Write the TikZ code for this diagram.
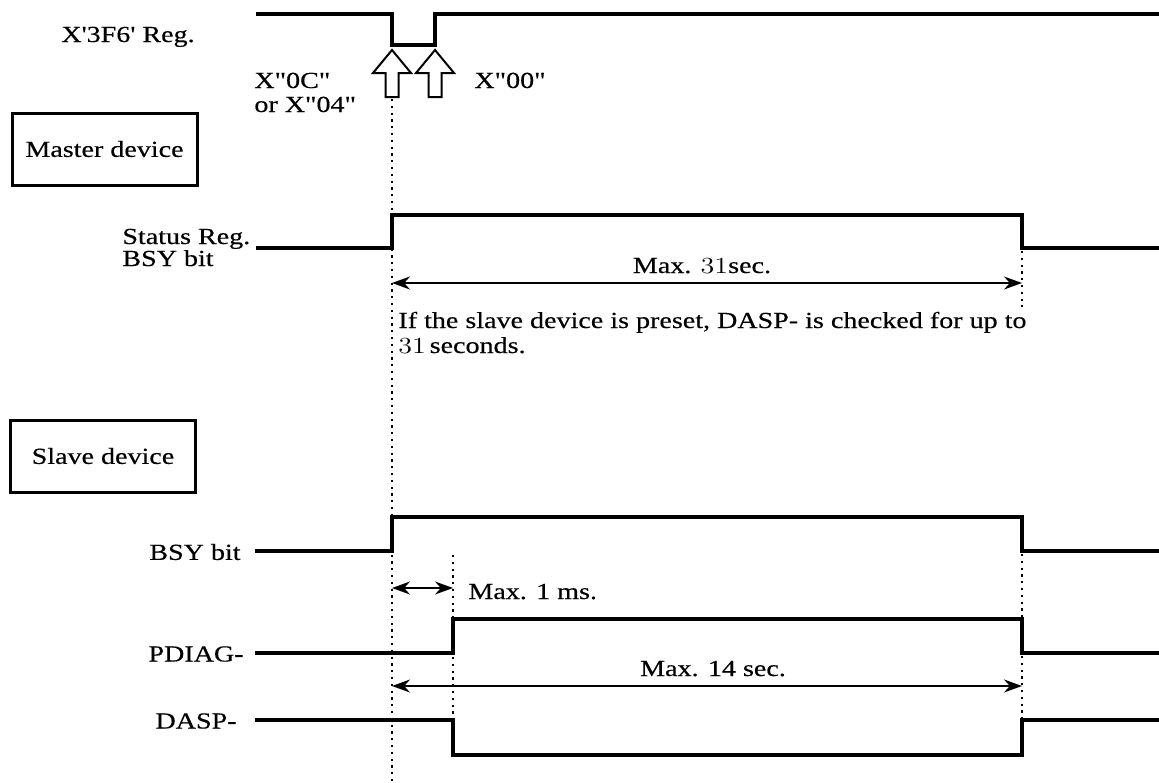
\documentclass[tikz,border=0pt]{standalone}
\usepackage{fontspec}
\setmainfont{Liberation Serif}[FakeStretch=1.22, FakeBold=0.4, Ligatures=TeXOff]
\newfontfamily\lmfont{Latin Modern Roman}[FakeStretch=1.22]
\usetikzlibrary{arrows.meta}
\begin{document}
\begin{tikzpicture}[x=0.5pt,y=-0.5pt,
  sig/.style={line width=1.8pt, line join=miter},
  guide/.style={line width=1.3pt, dash pattern=on 1.1pt off 2.3pt},
  dim/.style={line width=1pt, {Stealth[length=9pt,width=6.5pt]}-{Stealth[length=9pt,width=6.5pt]}},
  lbl/.style={font=\fontsize{11.5}{13}\selectfont, inner sep=0pt},
  devbox/.style={draw, line width=1.5pt, minimum width=92.5pt, minimum height=36pt, inner sep=0pt, font=\fontsize{11.5}{13}\selectfont},
  hollow/.style={line width=1pt, fill=white, line join=miter}
]
\useasboundingbox (0,0) rectangle (1159,782);

% X'3F6' register
\draw[sig] (256,14) -- (392,14) -- (392,45) -- (435,45) -- (435,14) -- (1159,14);
\node[lbl, anchor=base west] (reglbl) at (61,42) {X'3F6' Reg.};
\node[lbl, anchor=base west] (w0c) at (254,88) {X"0C"};
\node[lbl, anchor=base west] (w04) at (254,112) {or X"04"};
\node[lbl, anchor=base west] (w00) at (474,88) {X"00"};
\draw[hollow] (392,50) -- (411,73) -- (398.5,73) -- (398.5,97) -- (385.5,97) -- (385.5,73) -- (373,73) -- cycle;
\draw[hollow] (435,50) -- (454,73) -- (441.5,73) -- (441.5,97) -- (428.5,97) -- (428.5,73) -- (416,73) -- cycle;

% Master
\node[devbox] (master) at (104.5,149) {Master device};
\draw[sig] (256,248) -- (392,248) -- (392,215) -- (1022,215) -- (1022,248) -- (1159,248);
\node[lbl, anchor=base west] (st1) at (122,244) {Status Reg.};
\node[lbl, anchor=base west] (st2) at (122,266) {BSY bit};
\coordinate (m31a) at (392,283);
\coordinate (m31b) at (1022,283);
\draw[dim] (m31a) -- (m31b);
\node[lbl, anchor=base] (m31) at (702,273) {Max. {\lmfont 31}sec.};
\node[lbl, anchor=base west] (note1) at (398,328) {If the slave device is preset, DASP- is checked for up to};
\node[lbl, anchor=base west] (note2) at (398,353) {{\lmfont 31}\,seconds.};

% Slave
\node[devbox] (slave) at (103,456) {Slave device};
\draw[sig] (255,551) -- (392,551) -- (392,517) -- (1022,517) -- (1022,551) -- (1159,551);
\node[lbl, anchor=east] (bsy) at (241,552) {BSY bit};
\coordinate (m1a) at (392,588);
\coordinate (m1b) at (453,588);
\draw[dim] (m1a) -- (m1b);
\node[lbl, anchor=base west] (m1) at (468,599) {Max. 1 ms.};

\draw[sig] (255,653) -- (453,653) -- (453,619) -- (1022,619) -- (1022,653) -- (1159,653);
\node[lbl, anchor=east] (pdiag) at (244,654) {PDIAG-};
\coordinate (m14a) at (392,686);
\coordinate (m14b) at (1022,686);
\draw[dim] (m14a) -- (m14b);
\node[lbl, anchor=base] (m14) at (713,676) {Max. 14 sec.};

\draw[sig] (255,720) -- (453,720) -- (453,755) -- (1022,755) -- (1022,720) -- (1159,720);
\node[lbl, anchor=east] (dasp) at (237,721) {DASP-};

% guides
\draw[guide] (392,99) -- (392,782);
\draw[guide] (453,555) -- (453,720);
\draw[guide] (1022,251) -- (1022,307);
\draw[guide] (1022,554) -- (1022,720);
\end{tikzpicture}
\end{document}
